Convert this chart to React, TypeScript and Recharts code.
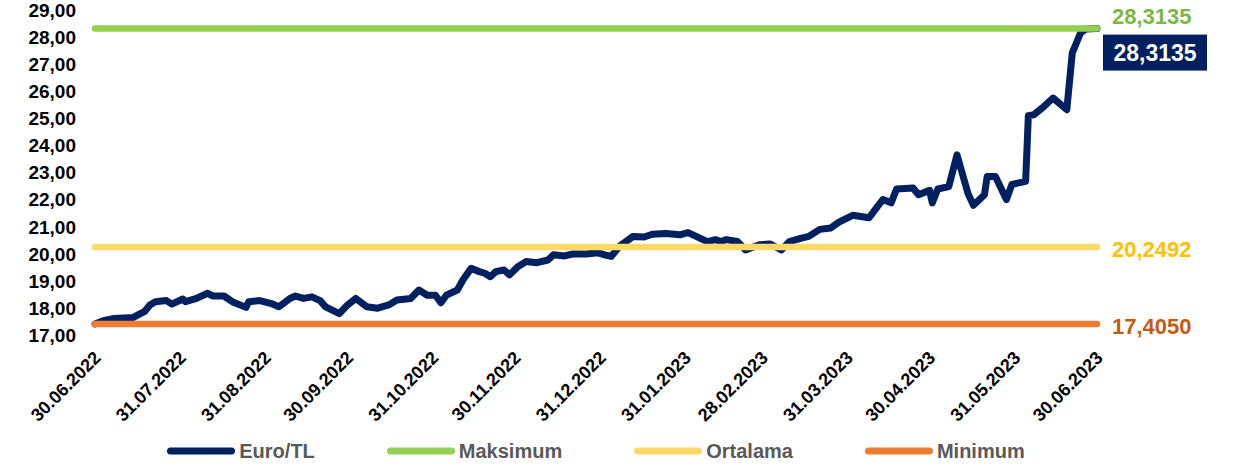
import React from 'react';
import { LineChart, Line, XAxis, YAxis, Legend, LabelList } from 'recharts';

// Euro/TL günlük seyir (grafikten okunan yaklaşık değerler)
const dates = [
  '30.06.2022', '03.07.2022', '07.07.2022', '14.07.2022', '16.07.2022', '18.07.2022', '20.07.2022', '22.07.2022',
  '26.07.2022', '28.07.2022', '01.08.2022', '02.08.2022', '06.08.2022', '10.08.2022', '12.08.2022', '16.08.2022',
  '19.08.2022', '24.08.2022', '25.08.2022', '29.08.2022', '02.09.2022', '05.09.2022', '09.09.2022', '11.09.2022',
  '14.09.2022', '17.09.2022', '20.09.2022', '22.09.2022', '27.09.2022', '30.09.2022', '03.10.2022', '07.10.2022',
  '11.10.2022', '15.10.2022', '18.10.2022', '23.10.2022', '26.10.2022', '29.10.2022', '01.11.2022', '03.11.2022',
  '05.11.2022', '09.11.2022', '11.11.2022', '14.11.2022', '17.11.2022', '19.11.2022', '21.11.2022', '23.11.2022',
  '26.11.2022', '28.11.2022', '01.12.2022', '04.12.2022', '08.12.2022', '12.12.2022', '14.12.2022', '18.12.2022',
  '21.12.2022', '26.12.2022', '30.12.2022', '02.01.2023', '04.01.2023', '07.01.2023', '12.01.2023', '16.01.2023',
  '19.01.2023', '24.01.2023', '29.01.2023', '01.02.2023', '04.02.2023', '08.02.2023', '11.02.2023', '13.02.2023',
  '15.02.2023', '19.02.2023', '22.02.2023', '27.02.2023', '03.03.2023', '07.03.2023', '10.03.2023', '14.03.2023',
  '17.03.2023', '21.03.2023', '25.03.2023', '28.03.2023', '02.04.2023', '08.04.2023', '11.04.2023', '13.04.2023',
  '16.04.2023', '18.04.2023', '24.04.2023', '26.04.2023', '30.04.2023', '01.05.2023', '03.05.2023', '07.05.2023',
  '10.05.2023', '14.05.2023', '16.05.2023', '20.05.2023', '21.05.2023', '24.05.2023', '28.05.2023', '30.05.2023',
  '04.06.2023', '05.06.2023', '07.06.2023', '10.06.2023', '14.06.2023', '19.06.2023', '21.06.2023', '24.06.2023',
  '26.06.2023', '30.06.2023',
];

const euroTl = [
  17.41, 17.53, 17.61, 17.65, 17.76, 17.86, 18.11, 18.23,
  18.27, 18.14, 18.33, 18.23, 18.35, 18.54, 18.44, 18.44,
  18.23, 18.02, 18.23, 18.27, 18.17, 18.04, 18.35, 18.44,
  18.35, 18.41, 18.27, 18.04, 17.79, 18.11, 18.35, 18.04,
  17.99, 18.11, 18.29, 18.35, 18.66, 18.47, 18.47, 18.19,
  18.47, 18.66, 19.03, 19.46, 19.34, 19.28, 19.15, 19.34,
  19.40, 19.22, 19.52, 19.71, 19.67, 19.77, 19.96, 19.92,
  19.99, 19.99, 20.04, 19.95, 19.90, 20.27, 20.64, 20.62,
  20.72, 20.75, 20.70, 20.78, 20.64, 20.45, 20.52, 20.45,
  20.52, 20.45, 20.14, 20.33, 20.36, 20.14, 20.45, 20.57,
  20.64, 20.90, 20.95, 21.17, 21.42, 21.33, 21.74, 22.00,
  21.88, 22.39, 22.43, 22.18, 22.34, 21.88, 22.39, 22.48,
  23.65, 22.23, 21.79, 22.18, 22.85, 22.85, 22.00, 22.56,
  22.67, 25.10, 25.13, 25.38, 25.75, 25.32, 27.42, 28.15,
  28.30, 28.3135,
];

const maksimum = 28.3135;
const ortalama = 20.2492;
const minimum = 17.405;

const tickDates = [
  '30.06.2022', '31.07.2022', '31.08.2022', '30.09.2022', '31.10.2022', '30.11.2022', '31.12.2022',
  '31.01.2023', '28.02.2023', '31.03.2023', '30.04.2023', '31.05.2023', '30.06.2023',
];

const yTicks = [17, 18, 19, 20, 21, 22, 23, 24, 25, 26, 27, 28, 29];

const seriesNames = ['Euro/TL', 'Maksimum', 'Ortalama', 'Minimum'];
const COLORS = ['#002060', '#92D050', '#FFD966', '#ED7D31'];
const LABEL_COLORS = ['#FFFFFF', '#7AB648', '#FFC000', '#C55A11'];

const FONT = '"Liberation Sans", Arial, sans-serif';

const toDay = (s: string) => {
  const [d, m, y] = s.split('.').map(Number);
  return Date.UTC(y, m - 1, d) / 86400000;
};

const dayToLabel: Record<number, string> = {};
tickDates.forEach((t) => { dayToLabel[toDay(t)] = t; });

const chartData = dates.map((d, i) => ({
  day: toDay(d),
  euro: euroTl[i],
  maks: maksimum,
  ort: ortalama,
  min: minimum,
}));

const fmt = (v: number, digits: number) => v.toFixed(digits).replace('.', ',');

const lastIndex = chartData.length - 1;

const YTick = (props: any) => {
  const { x, y, payload } = props;
  return (
    <text x={x - 11} y={y} dy="0.36em" textAnchor="end" fontFamily={FONT} fontWeight={700} fontSize={19} fill="#000">
      {fmt(payload.value, 2)}
    </text>
  );
};

const XTick = (props: any) => {
  const { x, y, payload } = props;
  const ax = x - 2;
  const ay = y + 7;
  return (
    <text
      x={ax}
      y={ay}
      dy="0.7em"
      transform={`rotate(-45 ${ax} ${ay})`}
      textAnchor="end"
      fontFamily={FONT}
      fontWeight={700}
      fontSize={18}
      fill="#000"
    >
      {dayToLabel[payload.value]}
    </text>
  );
};

const makeEndLabel = (colorIdx: number, dy: number) => (props: any) => {
  const { x, y, index, value } = props;
  if (index !== lastIndex) return null;
  return (
    <text
      x={x + 15}
      y={y + dy}
      dy="0.36em"
      fontFamily={FONT}
      fontWeight={700}
      fontSize={22}
      fill={LABEL_COLORS[colorIdx]}
    >
      {fmt(value, 4)}
    </text>
  );
};

const EuroEndLabel = (props: any) => {
  const { x, y, index, value } = props;
  if (index !== lastIndex) return null;
  return (
    <g>
      <rect x={x + 6} y={y + 6} width={104} height={36} fill={COLORS[0]} />
      <text
        x={x + 58}
        y={y + 24}
        dy="0.36em"
        textAnchor="middle"
        fontFamily={FONT}
        fontWeight={700}
        fontSize={23}
        fill="#FFFFFF"
      >
        {fmt(value, 4)}
      </text>
    </g>
  );
};

const renderLegend = () => (
  <div style={{ display: 'flex', justifyContent: 'center', alignItems: 'center', gap: 72, height: 30 }}>
    {seriesNames.map((name, i) => (
      <div key={name} style={{ display: 'flex', alignItems: 'center' }}>
        <svg width={68} height={10}>
          <line x1={3.5} y1={5} x2={64.5} y2={5} stroke={COLORS[i]} strokeWidth={7} strokeLinecap="round" />
        </svg>
        <span style={{ marginLeft: 4, fontFamily: FONT, fontWeight: 700, fontSize: 20, color: '#595959' }}>{name}</span>
      </div>
    ))}
  </div>
);

const App: React.FC = () => {
  return (
    <div style={{ width: 1233, height: 468, background: '#fff' }}>
      <style>{'body{margin:0}'}</style>
      <LineChart width={1233} height={468} data={chartData} margin={{ top: 10, right: 136, left: 0, bottom: 8 }}>
        <XAxis
          dataKey="day"
          type="number"
          domain={[toDay(tickDates[0]), toDay(tickDates[tickDates.length - 1])]}
          ticks={tickDates.map(toDay)}
          tick={<XTick />}
          axisLine={false}
          tickLine={false}
          height={95}
          interval={0}
        />
        <YAxis
          domain={[17, 29]}
          ticks={yTicks}
          tick={<YTick />}
          axisLine={false}
          tickLine={false}
          width={95}
          interval={0}
        />
        <Legend
          verticalAlign="bottom"
          content={renderLegend}
          wrapperStyle={{ left: 95, width: 1002, top: 436, height: 30 }}
        />
        <Line
          dataKey="euro"
          name={seriesNames[0]}
          stroke={COLORS[0]}
          strokeWidth={7}
          strokeLinejoin="round"
          strokeLinecap="round"
          dot={false}
          type="linear"
          isAnimationActive={false}
        >
          <LabelList dataKey="euro" content={EuroEndLabel} />
        </Line>
        <Line
          dataKey="maks"
          name={seriesNames[1]}
          stroke={COLORS[1]}
          strokeWidth={6.5}
          strokeLinecap="round"
          dot={false}
          type="linear"
          isAnimationActive={false}
        >
          <LabelList dataKey="maks" content={makeEndLabel(1, -13)} />
        </Line>
        <Line
          dataKey="ort"
          name={seriesNames[2]}
          stroke={COLORS[2]}
          strokeWidth={6.5}
          strokeLinecap="round"
          dot={false}
          type="linear"
          isAnimationActive={false}
        >
          <LabelList dataKey="ort" content={makeEndLabel(2, 2)} />
        </Line>
        <Line
          dataKey="min"
          name={seriesNames[3]}
          stroke={COLORS[3]}
          strokeWidth={6.5}
          strokeLinecap="round"
          dot={false}
          type="linear"
          isAnimationActive={false}
        >
          <LabelList dataKey="min" content={makeEndLabel(3, 2)} />
        </Line>
      </LineChart>
    </div>
  );
};

export default App;
